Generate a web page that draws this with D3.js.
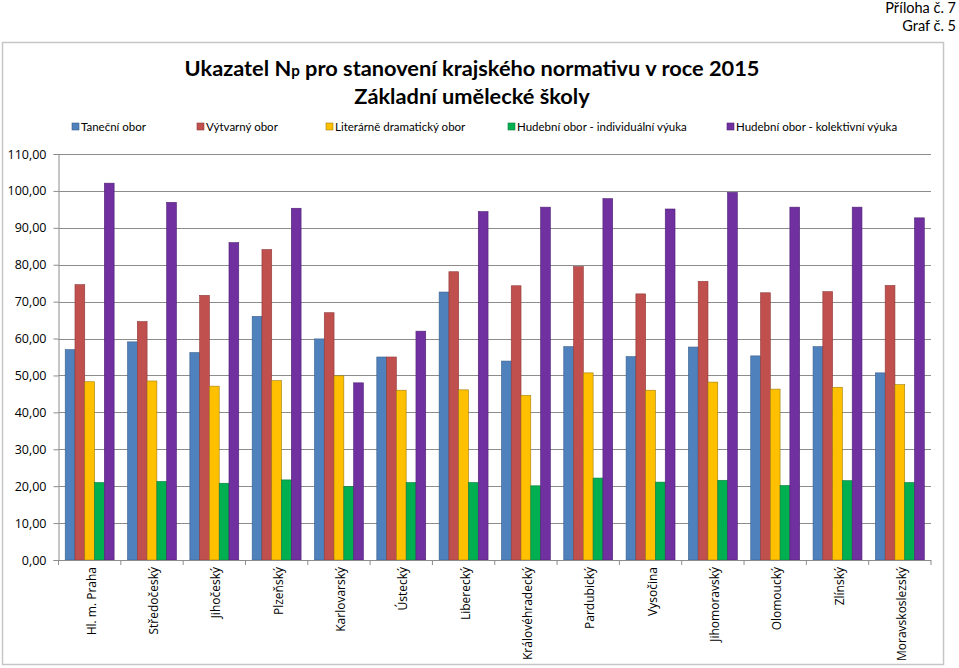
<!DOCTYPE html>
<html><head><meta charset="utf-8">
<script src="https://cdn.jsdelivr.net/npm/d3@7"></script>
<style>body{margin:0;background:#fff}svg{display:block}</style>
</head><body>
<svg id="c" width="959" height="668"></svg>
<script>
const categories = ["Hl. m. Praha","Středočeský","Jihočeský","Plzeňský","Karlovarský","Ústecký","Liberecký","Královéhradecký","Pardubický","Vysočina","Jihomoravský","Olomoucký","Zlínský","Moravskoslezský"];
const seriesNames = ["Taneční obor","Výtvarný obor","Literárně dramatický obor","Hudební obor - individuální výuka","Hudební obor - kolektivní výuka"];
const tanecni   = [57.0,59.1,56.2,66.0,59.9,55.0,72.6,53.9,57.8,55.1,57.7,55.3,57.8,50.7];
const vytvarny  = [74.6,64.6,71.7,84.1,67.0,55.0,78.1,74.3,79.5,72.1,75.5,72.4,72.7,74.4];
const literarni = [48.3,48.5,47.1,48.6,49.9,46.0,46.1,44.6,50.7,46.0,48.2,46.3,46.8,47.5];
const hudIndiv  = [21.0,21.3,20.8,21.7,19.9,21.0,21.0,20.1,22.2,21.1,21.6,20.2,21.5,21.0];
const hudKolekt = [102.1,96.9,86.0,95.3,48.0,62.0,94.4,95.6,97.9,95.1,99.6,95.6,95.6,92.7];
const yTicks = [0,10,20,30,40,50,60,70,80,90,100,110];
const colors = ["#4F81BD","#C0504D","#FFC000","#00B050","#7030A0"];
const strokes = ["#3a5f8c","#8f3b39","#a07c10","#0a7a3c","#4f2273"];
const values = [tanecni,vytvarny,literarni,hudIndiv,hudKolekt];

const svg = d3.select("#c");
const fontC = "Lato,'Open Sans',sans-serif";

// header
svg.append("text").attr("x",956).attr("y",13).attr("text-anchor","end")
  .style("font-family",fontC).style("font-size","14.5px").text("Příloha č. 7");
svg.append("text").attr("x",956).attr("y",31).attr("text-anchor","end")
  .style("font-family",fontC).style("font-size","14.5px").text("Graf č. 5");

// chart border
svg.append("rect").attr("x",2.5).attr("y",42.5).attr("width",941).attr("height",622)
  .attr("fill","none").attr("stroke","#c6c6c6").attr("stroke-width",1.5);

// title
const t1 = svg.append("text").attr("x",472).attr("y",76).attr("text-anchor","middle")
  .style("font-family",fontC).style("font-size","23px").style("font-weight","bold").attr("fill","#000");
t1.append("tspan").attr("class","big").text("Ukazatel N");
t1.append("tspan").attr("class","small").style("font-size","16px").text("p");
t1.append("tspan").attr("class","big").text(" pro stanovení krajského normativu v roce 2015");
const w1 = t1.node().getComputedTextLength();
const k1 = 575 / w1;
t1.style("font-size", (23*k1)+"px");
t1.selectAll(".small").style("font-size", (16*k1)+"px");
const t2 = svg.append("text").attr("x",472).attr("y",104).attr("text-anchor","middle")
  .style("font-family",fontC).style("font-size",(23*k1)+"px").style("font-weight","bold")
  .text("Základní umělecké školy");

// scales
const margin = {left:58.5, right:931, top:154, bottom:560};
const x0 = d3.scaleBand().domain(categories).range([margin.left, margin.right]).paddingInner(0.215).paddingOuter(0.1075);
const x1 = d3.scaleBand().domain(d3.range(5)).range([0, x0.bandwidth()]);
const y = d3.scaleLinear().domain([0,110]).range([margin.bottom, margin.top]);

// gridlines
svg.append("g").selectAll("line").data(yTicks.filter(d=>d>0)).join("line")
  .attr("x1",margin.left).attr("x2",margin.right)
  .attr("y1",d=>Math.round(y(d))+0.5).attr("y2",d=>Math.round(y(d))+0.5)
  .attr("stroke","#8c8c8c").attr("stroke-width",1);

// bars
const g = svg.append("g");
categories.forEach((c,i)=>{
  values.forEach((s,k)=>{
    g.append("rect")
      .attr("x", x0(c)+x1(k)).attr("width", x1.bandwidth())
      .attr("y", y(s[i])).attr("height", y(0)-y(s[i]))
      .attr("fill", colors[k]).attr("stroke", strokes[k]).attr("stroke-width",0.6);
  });
});

// y axis
const yAxis = d3.axisLeft(y).tickValues(yTicks).tickSize(5).tickFormat(d=>d3.format(".2f")(d).replace(".",","));
const ya = svg.append("g").attr("transform",`translate(${margin.left},0)`).call(yAxis);
ya.select(".domain").attr("stroke","#8c8c8c");
ya.selectAll(".tick line").attr("stroke","#8c8c8c");
ya.selectAll(".tick text").attr("x",-12).style("font-family","'Open Sans',sans-serif").style("font-size","12.5px").attr("fill","#000");

// x axis
svg.append("line").attr("x1",margin.left).attr("x2",margin.right).attr("y1",y(0)+0.5).attr("y2",y(0)+0.5).attr("stroke","#8c8c8c");
const step = x0.step();
svg.append("g").selectAll("line").data(d3.range(categories.length+1)).join("line")
  .attr("x1",d=>margin.left+d*step).attr("x2",d=>margin.left+d*step)
  .attr("y1",y(0)).attr("y2",y(0)+5).attr("stroke","#8c8c8c");
svg.append("g").selectAll("text").data(categories).join("text")
  .attr("transform",d=>`translate(${x0(d)+x0.bandwidth()/2+6},567) rotate(-90)`)
  .attr("text-anchor","end")
  .style("font-family","'Open Sans',sans-serif").style("font-size","12px").text(d=>d);

// legend
const legX = [72,197,326,508,727];
const lg = svg.append("g");
seriesNames.forEach((n,k)=>{
  lg.append("rect").attr("x",legX[k]).attr("y",123).attr("width",7).attr("height",7)
    .attr("fill",colors[k]).attr("stroke",strokes[k]).attr("stroke-width",0.6);
  lg.append("text").attr("x",legX[k]+9).attr("y",130.5)
    .style("font-family",fontC).style("font-size","11.5px").text(n);
});
</script>
</body></html>
